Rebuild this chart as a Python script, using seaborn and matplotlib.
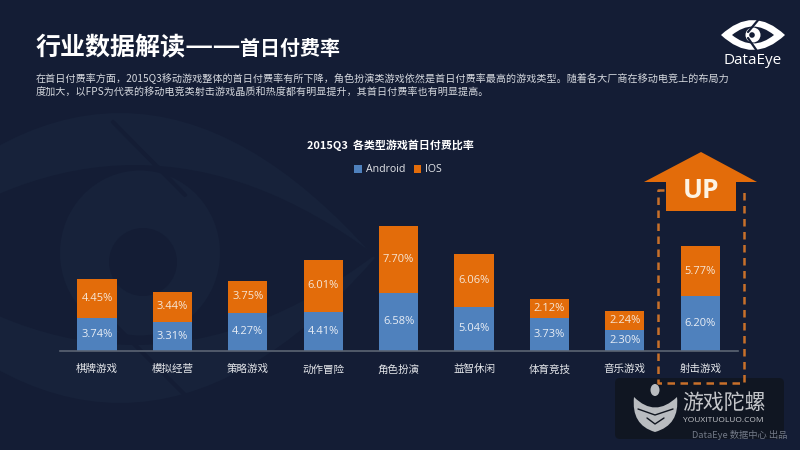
import matplotlib
matplotlib.use('Agg')
import matplotlib.pyplot as plt
from matplotlib.patches import Polygon, FancyBboxPatch, Circle, Ellipse, PathPatch
from matplotlib.path import Path
import seaborn as sns

categories = ['棋牌游戏', '模拟经营', '策略游戏', '动作冒险', '角色扮演', '益智休闲', '体育竞技', '音乐游戏', '射击游戏']
android = [3.74, 3.31, 4.27, 4.41, 6.58, 5.04, 3.73, 2.30, 6.20]
ios = [4.45, 3.44, 3.75, 6.01, 7.70, 6.06, 2.12, 2.24, 5.77]

BG = '#141d35'
LIGHT = '#17223a'
BLUE = '#4f81bd'
ORANGE = '#e36c0a'
CN = ['Noto Sans CJK SC', 'DejaVu Sans']


# almond shape used by both eye logos
def lens(cx, cy, half_w, ctrl, **kw):
    verts = [(cx - half_w, cy), (cx, cy - ctrl), (cx + half_w, cy), (cx, cy + ctrl), (cx - half_w, cy)]
    codes = [Path.MOVETO, Path.CURVE3, Path.CURVE3, Path.CURVE3, Path.CURVE3]
    return PathPatch(Path(verts, codes), ec='none', **kw)


sns.set_theme(style='white')
plt.rcParams['font.family'] = CN

fig = plt.figure(figsize=(8, 4.5), dpi=100, facecolor=BG)

# background layer in pixel coords
bg = fig.add_axes([0, 0, 1, 1], zorder=0)
bg.set_xlim(0, 800)
bg.set_ylim(450, 0)
bg.axis('off')

# big faint eye behind the chart
bg.add_patch(lens(120, 258, 255, 290, fc=LIGHT))
bg.add_patch(lens(135, 255, 240, 180, fc=BG))
bg.add_patch(Ellipse((140, 253), 160, 165, fc=LIGHT, ec='none'))
bg.add_patch(Ellipse((143, 262), 68, 68, fc=BG, ec='none'))
bg.plot([113, 185], [122, 195], color=BG, lw=3)
bg.plot([115, 190], [325, 400], color=BG, lw=3)

# header
bg.text(36, 47, '行业数据解读', color='white', fontsize=18, fontweight='bold', va='center', ha='left')
bg.text(184, 47, '——', color='white', fontsize=22.8, va='center', ha='left')
bg.text(240, 48, '首日付费率', color='white', fontsize=14.4, fontweight='bold', va='center', ha='left')
bg.text(36, 79, '在首日付费率方面，2015Q3移动游戏整体的首日付费率有所下降，角色扮演类游戏依然是首日付费率最高的游戏类型。随着各大厂商在移动电竞上的布局力',
        color='#d5d8de', fontsize=7.27, va='center', ha='left')
bg.text(36, 92, '度加大，以FPS为代表的移动电竞类射击游戏晶质和热度都有明显提升，其首日付费率也有明显提高。',
        color='#d5d8de', fontsize=7.27, va='center', ha='left')

# DataEye logo
bg.add_patch(lens(753, 35, 32, 30, fc='white'))
bg.add_patch(lens(753, 35, 21, 17, fc=BG))
bg.add_patch(Circle((753, 35), 7.5, fc='white', ec='none'))
bg.add_patch(Circle((752, 35), 2.8, fc=BG, ec='none'))
bg.plot([759, 748], [19, 32], color=BG, lw=1.6)
bg.plot([748, 757], [38, 51], color=BG, lw=1.6)
bg.text(753, 61, 'DataEye', color='white', fontsize=11, family='Open Sans', va='center', ha='center')

# chart title
bg.text(390, 145, '2015Q3  各类型游戏首日付费比率', color='white', fontsize=7.9, fontweight='bold', va='center', ha='center')

# stacked bars
ax = fig.add_axes([60 / 800, 1 - 350.5 / 450, 678 / 800, 160.5 / 450], zorder=2)
ax.patch.set_alpha(0)
sns.barplot(x=categories, y=android, color=BLUE, width=0.52, saturation=1, linewidth=0, ax=ax, label='Android')
sns.barplot(x=categories, y=ios, bottom=android, color=ORANGE, width=0.52, saturation=1, linewidth=0, ax=ax, label='IOS')
ax.set_xlim(-0.49, 8.5)
ax.set_ylim(0, 160.5 / 8.72)
ax.set_yticks([])
ax.set_ylabel('')
for s in ['top', 'left', 'right']:
    ax.spines[s].set_visible(False)
ax.spines['bottom'].set_color('#5b6473')
ax.spines['bottom'].set_linewidth(1.2)
ax.tick_params(axis='x', length=0, pad=10, labelsize=7.6, labelcolor='#e4e6ea')

for i, (a, b) in enumerate(zip(android, ios)):
    ax.text(i, a / 2, f'{a:.2f}%', color='#e8edf5', fontsize=8, ha='center', va='center', family='Open Sans')
    ax.text(i, a + b / 2, f'{b:.2f}%', color='#f6e6d6', fontsize=8, ha='center', va='center', family='Open Sans')

leg = ax.legend(loc='center', bbox_to_anchor=(338 / 678, (350.5 - 170) / 160.5), ncol=2, frameon=False,
                handlelength=0.75, handleheight=0.75, handletextpad=0.35, columnspacing=0.8,
                prop={'family': 'Open Sans', 'size': 7.6})
for t in leg.get_texts():
    t.set_color('#e4e6ea')

# overlay for the UP arrow, dashed box and watermark
top = fig.add_axes([0, 0, 1, 1], zorder=3)
top.set_xlim(0, 800)
top.set_ylim(450, 0)
top.axis('off')
top.patch.set_alpha(0)

top.add_patch(FancyBboxPatch((615, 378), 169, 61, boxstyle='round,pad=0,rounding_size=5', fc='#10151f', ec='none', alpha=0.85))
top.plot([664, 658, 658, 743.5, 743.5, 741], [190, 190, 383, 383, 190, 190], color='#c8702a', lw=1.8, ls=(0, (3, 2.2)))
top.add_patch(Polygon([(644, 182), (701, 152), (757, 182), (736, 182), (736, 211), (666, 211), (666, 182)], fc=ORANGE, ec='none'))
top.text(701, 190, 'UP', color='#fdf3e4', fontsize=19, fontweight='bold', family='Open Sans', ha='center', va='center')

# gyro logo: drop over a banded bowl
gray = '#b9bcc0'
top.add_patch(Ellipse((655, 390), 9, 12, fc=gray, ec='none'))
bowl = [(634, 397), (655, 418), (677, 397), (680, 425), (655, 432), (631, 425), (634, 397)]
top.add_patch(PathPatch(Path(bowl, [Path.MOVETO] + [Path.CURVE3] * 6), fc=gray, ec='none'))
for y0 in [409, 418]:
    top.plot([638 + (y0 - 409), 655, 673 - (y0 - 409)], [y0, y0 + 6, y0], color='#10151f', lw=1)
top.text(724, 403, '游戏陀螺', color='#c4c6ca', fontsize=15, ha='center', va='center')
top.text(723, 421, 'YOUXITUOLUO.COM', color='#c4c6ca', fontsize=6, ha='center', va='center', family='Open Sans')
top.text(739.5, 435, 'DataEye 数据中心 出品', color='#737a88', fontsize=6.7, ha='center', va='center')

fig.savefig('out.png', dpi=100, facecolor=BG)
